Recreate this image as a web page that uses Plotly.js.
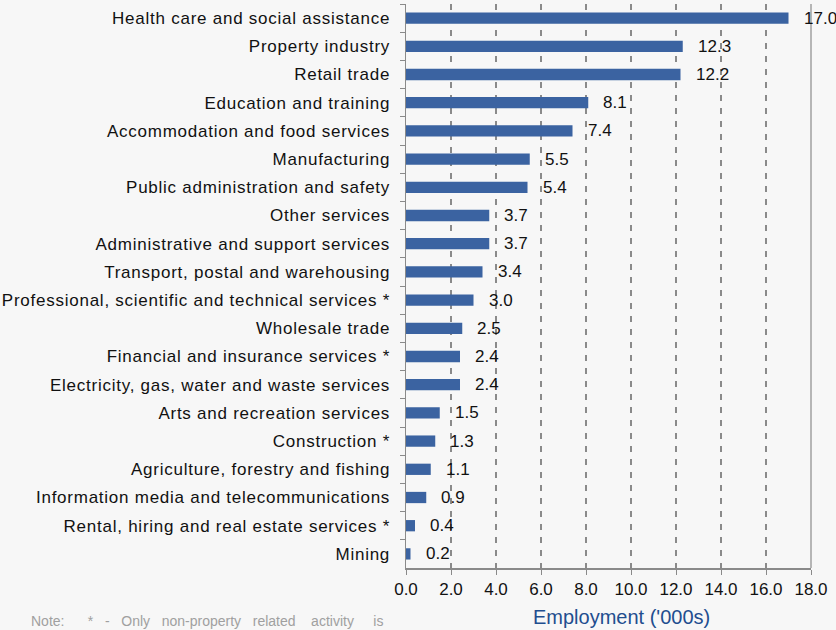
<!DOCTYPE html>
<html>
<head>
<meta charset="utf-8">
<script src="https://cdn.plot.ly/plotly-3.0.1.min.js"></script>
<style>
html,body{margin:0;padding:0;background:#f7f7f7;}
#chart{width:836px;height:630px;}
#chart .ytick text{letter-spacing:0.75px;}
</style>
</head>
<body>
<div id="chart"></div>
<script>
const industries = [
  "Health care and social assistance",
  "Property industry",
  "Retail trade",
  "Education and training",
  "Accommodation and food services",
  "Manufacturing",
  "Public administration and safety",
  "Other services",
  "Administrative and support services",
  "Transport, postal and warehousing",
  "Professional, scientific and technical services *",
  "Wholesale trade",
  "Financial and insurance services *",
  "Electricity, gas, water and waste services",
  "Arts and recreation services",
  "Construction *",
  "Agriculture, forestry and fishing",
  "Information media and telecommunications",
  "Rental, hiring and real estate services *",
  "Mining"
];
const employment = [17.0, 12.3, 12.2, 8.1, 7.4, 5.5, 5.4, 3.7, 3.7, 3.4, 3.0, 2.5, 2.4, 2.4, 1.5, 1.3, 1.1, 0.9, 0.4, 0.2];
const xTicks = [0, 2, 4, 6, 8, 10, 12, 14, 16, 18];
const xTickLabels = ["0.0", "2.0", "4.0", "6.0", "8.0", "10.0", "12.0", "14.0", "16.0", "18.0"];
const axisTitle = "Employment ('000s)";
const S = "\u00A0";
const noteWords = ["Note:", "*", "-", "Only", "non-property", "related", "activity", "is"];
const noteGaps  = [6, 3, 3, 3, 3, 4, 5];

let noteText = noteWords[0];
for (let i = 1; i < noteWords.length; i++) noteText += S.repeat(noteGaps[i - 1]) + noteWords[i];

const font = {family: "Liberation Sans, Arial, sans-serif", size: 17, color: "#111"};

const trace = {
  type: "bar",
  orientation: "h",
  x: employment,
  y: industries,
  marker: {color: "#3b63a1", line: {width: 0}},
  hoverinfo: "none"
};

const annotations = employment.map((v, i) => ({
  x: v, y: industries[i], xref: "x", yref: "y",
  text: v.toFixed(1), showarrow: false,
  xanchor: "left", yanchor: "middle", xshift: 13,
  font: font
}));
annotations.push({
  xref: "paper", yref: "paper", x: 0.531, y: -0.087,
  xanchor: "center", yanchor: "middle",
  text: axisTitle, showarrow: false,
  font: {family: "Liberation Sans, Arial, sans-serif", size: 20, color: "#1f4e8f"}
});
annotations.push({
  xref: "paper", yref: "paper", x: -0.93, y: -0.1125,
  xanchor: "left", yanchor: "bottom",
  text: noteText, showarrow: false,
  font: {family: "Liberation Sans, Arial, sans-serif", size: 14, color: "#a0a0a0"}
});

const layout = {
  width: 836, height: 630,
  margin: {l: 406, r: 25, t: 4, b: 62},
  paper_bgcolor: "#f7f7f7",
  plot_bgcolor: "rgba(0,0,0,0)",
  bargap: 0.6,
  showlegend: false,
  font: font,
  xaxis: {
    range: [0, 18],
    tickvals: xTicks,
    ticktext: xTickLabels,
    showgrid: true,
    gridcolor: "#8a8a8a",
    gridwidth: 1.5,
    griddash: "6px,7px",
    zeroline: false,
    showline: true,
    linecolor: "#8a8a8a",
    linewidth: 1.5,
    ticks: "outside",
    ticklen: 5,
    tickcolor: "#8a8a8a",
    tickfont: font,
    fixedrange: true
  },
  yaxis: {
    type: "category",
    autorange: "reversed",
    showline: true,
    linecolor: "#8a8a8a",
    linewidth: 1.5,
    ticks: "outside",
    tickson: "boundaries",
    ticklen: 5,
    tickcolor: "#8a8a8a",
    tickfont: font,
    showgrid: false,
    zeroline: false,
    fixedrange: true,
    ticklabelstandoff: 11
  },
  shapes: [{
    type: "line", xref: "paper", yref: "paper",
    x0: 1, x1: 1, y0: 0, y1: 1,
    line: {color: "#a0a0a0", width: 1.5}
  }],
  annotations: annotations
};

Plotly.newPlot("chart", [trace], layout, {displayModeBar: false, staticPlot: true});
</script>
</body>
</html>
